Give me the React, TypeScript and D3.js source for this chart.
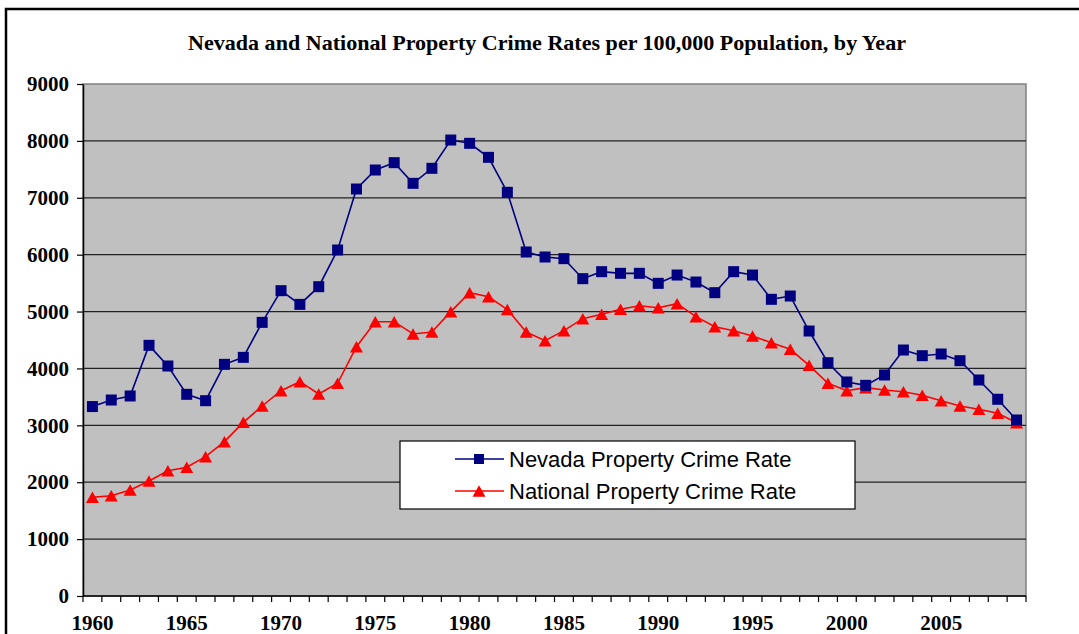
import React, {useEffect, useRef} from 'react';
import * as d3 from 'd3';

// years on the category axis, 1960 - 2009
const years = d3.range(1960, 2010);

// Nevada property crime rate per 100,000
const nevadaRate = [
    3330, 3445, 3516, 4406, 4043, 3545, 3433, 4072, 4195, 4810,
    5367, 5126, 5437, 6082, 7154, 7488, 7617, 7254, 7518, 8015,
    7957, 7711, 7096, 6047, 5959, 5930, 5578, 5701, 5672, 5672,
    5496, 5642, 5519, 5332, 5701, 5642, 5215, 5273, 4658, 4101,
    3762, 3703, 3885, 4324, 4224, 4254, 4136, 3797, 3458, 3094
];

// national property crime rate per 100,000
const nationalRate = [
    1735, 1763, 1863, 2021, 2203, 2262, 2449, 2713, 3053, 3340,
    3609, 3767, 3551, 3739, 4382, 4822, 4822, 4605, 4641, 4998,
    5332, 5262, 5035, 4641, 4488, 4664, 4875, 4952, 5040, 5103,
    5068, 5138, 4910, 4734, 4664, 4570, 4453, 4336, 4055, 3739,
    3609, 3662, 3621, 3591, 3528, 3433, 3340, 3282, 3211, 3047
];

const yTicks = [0, 1000, 2000, 3000, 4000, 5000, 6000, 7000, 8000, 9000];
const yearLabels = [1960, 1965, 1970, 1975, 1980, 1985, 1990, 1995, 2000, 2005];

const seriesNames = ['Nevada Property Crime Rate', 'National Property Crime Rate'];
const title = 'Nevada and National Property Crime Rates per 100,000 Population, by Year';

const W = 1079, H = 634;
const plot = {left: 83, right: 1026, top: 84, bottom: 596};

const navy = '#000080';
const red = '#FF0000';
const serif = '"Liberation Serif", "Times New Roman", serif';
const sans = '"Liberation Sans", Arial, sans-serif';

// triangle marker, w wide and h tall, centred on its box
function triPath(w: number, h: number){
    return 'M 0,' + (-h/2) + ' L ' + (w/2) + ',' + (h/2) + ' L ' + (-w/2) + ',' + (h/2) + ' Z';
}

export default function App(){
    const ref = useRef<SVGSVGElement>(null);

    useEffect(()=>{
        const svg = d3.select(ref.current);
        svg.selectAll('*').remove();

        // outer frame
        svg.append('rect')
            .attr('x', 6).attr('y', 9)
            .attr('width', 1200).attr('height', 800)
            .attr('fill', 'white')
            .attr('stroke', 'black').attr('stroke-width', 2.5);

        svg.append('text')
            .attr('x', 547).attr('y', 50)
            .attr('text-anchor', 'middle')
            .attr('font-family', serif).attr('font-weight', 'bold')
            .attr('font-size', 22)
            .attr('textLength', 718).attr('lengthAdjust', 'spacingAndGlyphs')
            .text(title);

        const xScale = d3.scaleBand<number>()
            .domain(years)
            .range([plot.left, plot.right])
            .padding(0);
        const cx = (yr: number) => (xScale(yr) as number) + xScale.bandwidth()/2;

        const yScale = d3.scaleLinear()
            .domain([0, 9000])
            .range([plot.bottom, plot.top]);

        // plot area
        svg.append('rect')
            .attr('x', plot.left).attr('y', plot.top)
            .attr('width', plot.right - plot.left).attr('height', plot.bottom - plot.top)
            .attr('fill', '#C0C0C0')
            .attr('stroke', '#808080').attr('stroke-width', 1.5);

        // gridlines
        svg.append('g').selectAll('line')
            .data(yTicks.filter(t => t > 0 && t < 9000))
            .enter().append('line')
            .attr('x1', plot.left).attr('x2', plot.right)
            .attr('y1', d => yScale(d)).attr('y2', d => yScale(d))
            .attr('stroke', '#222').attr('stroke-width', 1.2);

        // y axis
        const yAxis = svg.append('g')
            .attr('transform', 'translate(' + plot.left + ',0)')
            .call(d3.axisLeft(yScale).tickValues(yTicks).tickSize(6).tickSizeOuter(0).tickPadding(8)
                .tickFormat(d => String(d)));
        yAxis.select('.domain').attr('stroke', 'black').attr('stroke-width', 1.5);
        yAxis.selectAll('.tick line').attr('stroke', 'black').attr('stroke-width', 1.2);
        yAxis.selectAll('text')
            .attr('font-family', serif).attr('font-weight', 'bold')
            .attr('font-size', 21).attr('fill', 'black');

        // x axis: ticks on category boundaries, labels every five years
        const xg = svg.append('g');
        xg.append('line')
            .attr('x1', plot.left).attr('x2', plot.right)
            .attr('y1', plot.bottom).attr('y2', plot.bottom)
            .attr('stroke', 'black').attr('stroke-width', 1.5);
        xg.selectAll('.xtick')
            .data(years.concat([2010]))
            .enter().append('line')
            .attr('class', 'xtick')
            .attr('x1', d => d === 2010 ? plot.right : xScale(d) as number)
            .attr('x2', d => d === 2010 ? plot.right : xScale(d) as number)
            .attr('y1', plot.bottom).attr('y2', plot.bottom + 6)
            .attr('stroke', 'black').attr('stroke-width', 1.2);
        xg.selectAll('.xlabel')
            .data(yearLabels)
            .enter().append('text')
            .attr('class', 'xlabel')
            .attr('x', d => cx(d)).attr('y', 630)
            .attr('text-anchor', 'middle')
            .attr('font-family', serif).attr('font-weight', 'bold')
            .attr('font-size', 21)
            .text(d => String(d));

        const line = d3.line<number>()
            .x((d, i) => cx(years[i]))
            .y(d => yScale(d));

        // national series
        svg.append('path')
            .attr('d', line(nationalRate))
            .attr('fill', 'none').attr('stroke', red).attr('stroke-width', 1.6);
        svg.append('g').selectAll('path')
            .data(nationalRate)
            .enter().append('path')
            .attr('d', triPath(13, 11.5))
            .attr('transform', (d, i) => 'translate(' + cx(years[i]) + ',' + yScale(d) + ')')
            .attr('fill', red);

        // nevada series
        svg.append('path')
            .attr('d', line(nevadaRate))
            .attr('fill', 'none').attr('stroke', navy).attr('stroke-width', 1.6);
        svg.append('g').selectAll('rect')
            .data(nevadaRate)
            .enter().append('rect')
            .attr('x', (d, i) => cx(years[i]) - 5.5)
            .attr('y', d => yScale(d) - 5.5)
            .attr('width', 11).attr('height', 11)
            .attr('fill', navy);

        // legend
        const lg = svg.append('g');
        lg.append('rect')
            .attr('x', 400).attr('y', 441)
            .attr('width', 455).attr('height', 68)
            .attr('fill', 'white').attr('stroke', 'black').attr('stroke-width', 1.2);
        const rows = [
            {name: seriesNames[0], color: navy, y: 459, marker: 'square'},
            {name: seriesNames[1], color: red, y: 491, marker: 'triangle'}
        ];
        rows.forEach(r => {
            lg.append('line')
                .attr('x1', 455).attr('x2', 504)
                .attr('y1', r.y).attr('y2', r.y)
                .attr('stroke', r.color).attr('stroke-width', 1.6);
            if(r.marker === 'square'){
                lg.append('rect')
                    .attr('x', 479 - 5).attr('y', r.y - 5)
                    .attr('width', 10).attr('height', 10)
                    .attr('fill', r.color);
            } else {
                lg.append('path')
                    .attr('d', triPath(13, 11.5))
                    .attr('transform', 'translate(479,' + r.y + ')')
                    .attr('fill', r.color);
            }
            lg.append('text')
                .attr('x', 509).attr('y', r.y + 8)
                .attr('font-family', sans).attr('font-size', 22)
                .text(r.name);
        });
    }, []);

    return (
        <svg ref={ref} width={W} height={H}
            style={{position: 'absolute', left: 0, top: 0, display: 'block', background: 'white'}} />
    );
}
